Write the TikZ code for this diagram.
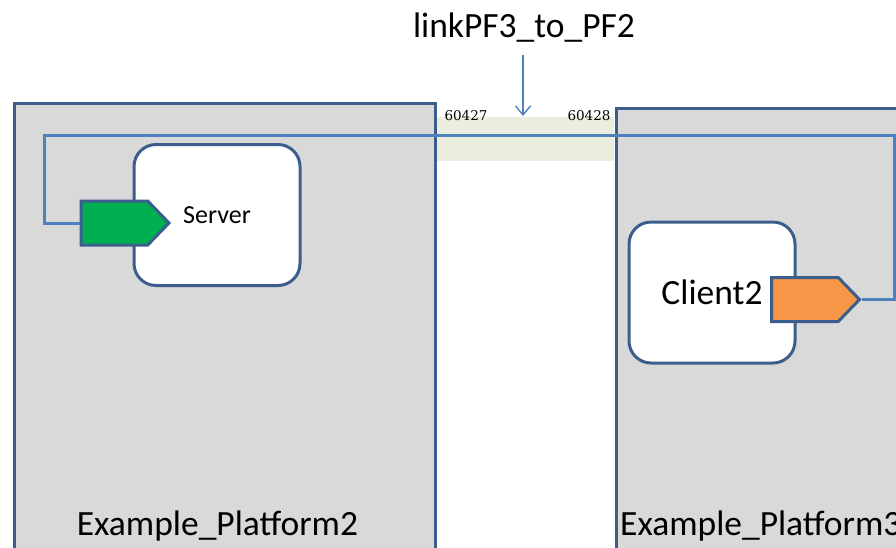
\documentclass[tikz,border=0pt]{standalone}
\usepackage{fontspec}
\setmainfont{Carlito}
\newfontfamily\portfont{DejaVu Serif}
\usetikzlibrary{shapes.symbols,arrows.meta}
\definecolor{platfill}{HTML}{D9D9D9}
\definecolor{darkborder}{HTML}{3B5E8C}
\definecolor{linkblue}{HTML}{4F81BD}
\definecolor{bandfill}{HTML}{EBEEDF}
\definecolor{portgreen}{HTML}{00B050}
\definecolor{portorange}{HTML}{F79646}
\tikzset{
  platform/.style={draw=darkborder, line width=3.4pt, fill=platfill},
  compbox/.style={draw=darkborder, line width=3pt, fill=white, rounded corners=22pt, minimum width=166pt, minimum height=141pt, inner sep=0pt},
  portshape/.style={signal, signal to=east, signal pointer angle=92, draw=darkborder, line width=3pt, minimum width=88pt, minimum height=44pt, inner sep=0pt},
  linkline/.style={draw=linkblue, line width=3pt},
  bigtext/.style={font=\fontsize{35.5}{40}\selectfont, inner sep=0pt},
  porttext/.style={font=\portfont\fontsize{13.5}{15}\selectfont, inner sep=0pt}
}
\begin{document}
\begin{tikzpicture}[x=1pt,y=-1pt]
\useasboundingbox (0,0) rectangle (896,547);
% band
\fill[bandfill] (434,117) rectangle (614,161);
% platforms
\node[platform, inner sep=0pt, minimum width=421pt, minimum height=500pt, anchor=north west] (plat2) at (12.5,101.5) {};
\node[platform, inner sep=0pt, minimum width=310pt, minimum height=500pt, anchor=north west] (plat3) at (615,106.5) {};
% labels
\node[bigtext, anchor=base] (lab2) at (217.5,535) {Example\_Platform2};
\node[bigtext, anchor=base west] (lab3) at (620,535) {Example\_Platform3};
% components
\node[compbox, font=\fontsize{26}{30}\selectfont] (server) at (217,215) {Server};
\node[compbox, font=\fontsize{35.5}{40}\selectfont] (client) at (712,292.5) {Client2};
% ports
\node[portshape, fill=portgreen, anchor=west] (gport) at (79.5,223) {};
\node[portshape, fill=portorange, anchor=west] (oport) at (770,299.5) {};
% link
\coordinate (c1) at (44,135.5);
\coordinate (c2) at (894,135.5);
\draw[linkline] (gport.west) -| (c1) -- (c2) |- (oport.east);
% port numbers
\node[porttext] (p1) at (466,115.5) {60427};
\node[porttext] (p2) at (589,115.5) {60428};
% title
\node[bigtext] (title) at (524,28) {linkPF3\_to\_PF2};
\coordinate (arrTop) at (523,55);
\coordinate (arrBot) at (523,116);
\draw[draw=linkblue, line width=1.4pt, -{Straight Barb[length=9pt,width=15pt]}] (arrTop) -- (arrBot);
\end{tikzpicture}
\end{document}
